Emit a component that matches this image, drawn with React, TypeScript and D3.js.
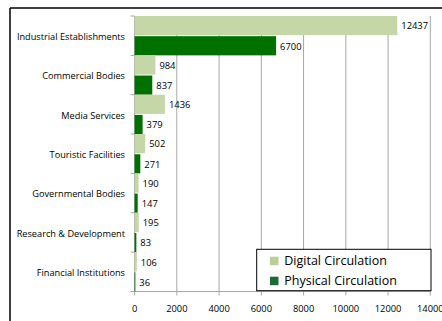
import React from "react";
import * as d3 from "d3";

const categories = [
  "Industrial Establishments",
  "Commercial Bodies",
  "Media Services",
  "Touristic Facilities",
  "Governmental Bodies",
  "Research & Development",
  "Financial Institutions",
];
const digital = [12437, 984, 1436, 502, 190, 195, 106];
const physical = [6700, 837, 379, 271, 147, 83, 36];
const xTicks = [0, 2000, 4000, 6000, 8000, 10000, 12000, 14000];
const seriesNames = ["Digital Circulation", "Physical Circulation"];

const W = 442;
const H = 321;
const left = 134.6;
const right = 430.3;
const top = 16;
const bottom = 291.5;
const font = "'Open Sans', 'Liberation Sans', sans-serif";

export default function App() {
  const x = d3.scaleLinear().domain([0, 14000]).range([left, right]);
  const y = d3.scaleBand().domain(categories).range([top, bottom]).padding(0);
  const bw = y.bandwidth();
  const barH = bw / 2 - 0.5;
  const gridColor = "#a6a6a6";
  const cDigital = "#c5d6a7";
  const cPhysical = "#007100";

  return (
    <svg
      width={W}
      height={H}
      style={{ position: "absolute", left: 0, top: 0, background: "#fff" }}
    >
      <rect x={0} y={0} width={W} height={H} fill="#fff" />
      {/* outer frame */}
      <line x1={10} y1={8} x2={W + 5} y2={8} stroke="#000" strokeWidth={1.5} />
      <line x1={10} y1={8} x2={10} y2={H + 5} stroke="#000" strokeWidth={1.5} />

      {/* gridlines */}
      {xTicks.slice(1).map((t) => (
        <line
          key={"g" + t}
          x1={x(t)}
          x2={x(t)}
          y1={top}
          y2={bottom + 4}
          stroke={gridColor}
          strokeWidth={1}
        />
      ))}
      {/* left axis */}
      <line x1={left} x2={left} y1={top} y2={bottom} stroke={gridColor} />
      {d3.range(categories.length + 1).map((i) => (
        <line
          key={"lt" + i}
          x1={left - 4}
          x2={left}
          y1={top + i * bw}
          y2={top + i * bw}
          stroke={gridColor}
        />
      ))}
      {/* bottom axis */}
      <line x1={left} x2={right} y1={bottom} y2={bottom} stroke={gridColor} />
      <line x1={left} x2={left} y1={bottom} y2={bottom + 4} stroke={gridColor} />

      {/* bars */}
      {categories.map((c, i) => {
        const y0 = y(c)!;
        return (
          <g key={c}>
            <rect
              x={x(0)}
              y={y0}
              width={x(digital[i]) - x(0)}
              height={barH}
              fill={cDigital}
            />
            <rect
              x={x(0)}
              y={y0 + bw / 2 + 0.5}
              width={x(physical[i]) - x(0)}
              height={barH}
              fill={cPhysical}
            />
            <text
              x={x(digital[i]) + 4}
              y={y0 + barH / 2 + 0.5}
              dy="0.35em"
              fontSize={9.4}
              fontFamily={font}
              fill="#000"
            >
              {digital[i]}
            </text>
            <text
              x={x(physical[i]) + 4}
              y={y0 + bw / 2 + 1 + barH / 2}
              dy="0.35em"
              fontSize={9.4}
              fontFamily={font}
              fill="#000"
            >
              {physical[i]}
            </text>
            <text
              x={125}
              y={y0 + bw / 2 + 1}
              dy="0.35em"
              textAnchor="end"
              fontSize={9.2}
              fontFamily={font}
              fill="#000"
            >
              {c}
            </text>
          </g>
        );
      })}

      {/* x tick labels */}
      {xTicks.map((t) => (
        <text
          key={"xl" + t}
          x={x(t)}
          y={309}
          dy="0.35em"
          textAnchor="middle"
          fontSize={9.3}
          fontFamily={font}
          fill="#000"
        >
          {t}
        </text>
      ))}

      {/* legend */}
      <rect
        x={256.7}
        y={249.3}
        width={174.3}
        height={41.4}
        fill="#fff"
        stroke="#000"
        strokeWidth={1}
      />
      {seriesNames.map((s, i) => (
        <g key={s}>
          <rect
            x={270}
            y={256.7 + i * 20}
            width={8.5}
            height={8.5}
            fill={i === 0 ? "#b9cf96" : "#1a6b38"}
          />
          <text
            x={284.3}
            y={261 + i * 20}
            dy="0.35em"
            fontSize={12.5}
            fontFamily={font}
            fill="#000"
          >
            {s}
          </text>
        </g>
      ))}
    </svg>
  );
}
